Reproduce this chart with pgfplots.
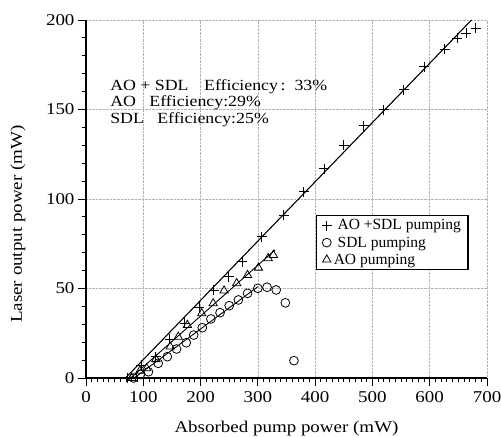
\documentclass[border=0pt]{standalone}
\usepackage{pgfplots}
\pgfplotsset{compat=1.18}
\usepackage{fontspec}
\setmainfont{Liberation Serif}
\newfontfamily\axfont{Liberation Serif}[FakeStretch=1.15]
\begin{document}
\begin{tikzpicture}
\begin{axis}[
  scale only axis, width=401bp, height=358bp,
  xmin=0, xmax=700, ymin=0, ymax=200,
  axis x line=bottom, axis y line=left,
  axis line style={-, line width=1.1pt},
  xtick distance=100, ytick distance=50,
  minor x tick num=9, minor y tick num=4,
  tick align=outside,
  major tick length=8bp, minor tick length=4bp,
  every tick/.style={black, line width=0.9pt},
  xmajorgrids, ymajorgrids,
  major grid style={densely dotted, gray!60, line width=0.5pt},
  /pgf/number format/assume math mode=true,
  tick label style={font=\axfont\fontsize{16.5bp}{18bp}\selectfont},
  xticklabel style={yshift=-2bp},
  label style={font=\axfont\fontsize{16.5bp}{18bp}\selectfont},
  xlabel={Absorbed pump power (mW)},
  ylabel={Laser output power (mW)},
  xlabel style={at={(axis description cs:0.5,-0.14)}, anchor=center},
  ylabel style={at={(axis description cs:-0.17,0.43)}, anchor=center},
  clip=false,
  legend style={at={(0.574,0.455)}, anchor=north west, draw=black, line width=1.2pt,
     font=\fontsize{15.5bp}{16bp}\selectfont, row sep=1.3bp, inner xsep=5bp, inner ysep=2bp},
  legend cell align=left,
]
% fitted lines
\addplot[black, line width=1.1pt, forget plot] coordinates {(69,0) (673,200)};
\addplot[black, line width=0.9pt, forget plot] coordinates {(78,0) (330,71.5)};
\addplot[black, line width=0.9pt, forget plot] coordinates {(84,0) (300,51)};
% AO + SDL
\addplot[only marks, mark=+, mark size=5bp, black, mark options={line width=0.9pt}] coordinates {
(72,0) (96,7) (122,12) (146,21.6) (172,30.5) (198,39.5) (223,49) (249,56.6) (273,65)
(307,79) (345,91) (380,104) (416,117) (450,130) (485,141) (520,150) (555,161) (590,174)
(626,183.6) (648,189.8) (664,192.5) (680,195.3)};
\addlegendentry{\ AO +SDL pumping}
% SDL
\addplot[only marks, mark=o, mark size=4.4bp, black, mark options={line width=0.8pt}] coordinates {
(83,0) (95,2) (109,3.5) (126,8.2) (142,11.9) (158,16.2) (175,19.7) (188,24) (203,28.1)
(218,33) (234,36.5) (250,40.4) (266,43.6) (282,47.3) (300,50.1) (316,50.7) (332,49.2)
(348,42) (363,9.7)};
\addlegendentry{\ SDL pumping}
% AO
\addplot[only marks, mark=triangle, mark size=4.8bp, black, mark options={line width=0.8pt}] coordinates {
(80,0) (94,4) (106,5.4) (122,10.5) (147,17.5) (161,23) (177,29.6) (202,36.1) (222,41.7)
(241,48.8) (263,52.9) (282,57.5) (301,61.6) (318,66.9) (327,68.7)};
\addlegendentry{AO pumping}
\node[anchor=north west, align=left, inner sep=0pt,
  font=\axfont\fontsize{15.5bp}{16.5bp}\selectfont] at (axis cs:42,167)
  {AO + SDL\quad Efficiency\,:\ \ 33\%\\ AO\ \ \ Efficiency:29\%\\ SDL\ \ \ Efficiency:25\%};
\end{axis}
\pgfresetboundingbox
\path[use as bounding box] ([shift={(-86bp,-58bp)}]current axis.south west) rectangle ([shift={(14bp,20bp)}]current axis.north east);
\end{tikzpicture}
\end{document}
